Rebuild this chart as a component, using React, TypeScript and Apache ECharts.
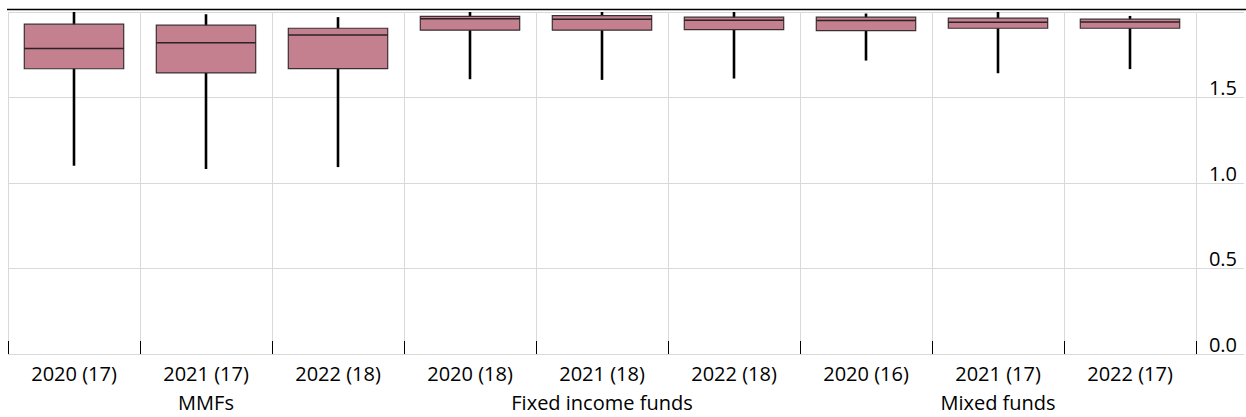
import React, { useEffect, useRef } from "react";
import * as echarts from "echarts";

const categories = ["2020 (17)", "2021 (17)", "2022 (18)", "2020 (18)", "2021 (18)", "2022 (18)", "2020 (16)", "2021 (17)", "2022 (17)"];
const groupLabels = ["", "MMFs", "", "", "Fixed income funds", "", "", "Mixed funds", ""];
const whiskerLow = [1.101, 1.082, 1.093, 1.607, 1.603, 1.611, 1.716, 1.642, 1.666];
const quartile1 = [1.668, 1.644, 1.669, 1.894, 1.894, 1.897, 1.891, 1.905, 1.905];
const medians = [1.786, 1.82, 1.866, 1.961, 1.958, 1.952, 1.95, 1.94, 1.942];
const quartile3 = [1.929, 1.923, 1.905, 1.975, 1.979, 1.97, 1.97, 1.964, 1.958];
const whiskerHigh = [2.0, 1.987, 1.97, 2.0, 2.0, 2.0, 1.991, 2.0, 1.977];
const yMin = 0;
const yMax = 2;
const yStep = 0.5;

const FONT = "'Open Sans', 'Noto Sans', sans-serif";

export default function App() {
  const ref = useRef<HTMLDivElement>(null);
  useEffect(() => {
    if (!ref.current) return;
    const chart = echarts.init(ref.current, null, { renderer: "svg" });
    const data = categories.map((_, i) => [i, whiskerLow[i], quartile1[i], medians[i], quartile3[i], whiskerHigh[i]]);
    chart.setOption({
      animation: false,
      backgroundColor: "#ffffff",
      grid: [
        { left: 8, width: 1188, top: 12, height: 342 },
        { left: 8, right: 2, top: 12, height: 342 },
      ],
      xAxis: [
        {
          type: "category",
          gridIndex: 0,
          data: categories,
          boundaryGap: true,
          axisLine: { show: false },
          axisTick: { show: true, inside: true, length: 13, lineStyle: { color: "#000", width: 1 } },
          axisLabel: { interval: 0, margin: 9, fontSize: 20, fontFamily: FONT, color: "#000" },
          splitLine: { show: true, lineStyle: { color: "#d9d9d9", width: 1 } },
          z: 3,
        },
        {
          type: "category",
          gridIndex: 0,
          data: groupLabels,
          position: "bottom",
          offset: 30,
          axisLine: { show: false },
          axisTick: { show: false },
          axisLabel: { interval: 0, margin: 8, fontSize: 20, fontFamily: FONT, color: "#000" },
          splitLine: { show: false },
        },
        {
          type: "value",
          gridIndex: 1,
          show: false,
          min: 0,
          max: 1,
        },
      ],
      yAxis: [
        { type: "value", gridIndex: 0, min: yMin, max: yMax, interval: yStep, show: false, splitLine: { show: false } },
        {
          type: "value",
          gridIndex: 1,
          min: yMin,
          max: yMax,
          interval: yStep,
          position: "right",
          axisLine: { show: false },
          axisTick: { show: false },
          axisLabel: {
            inside: true,
            margin: 7,
            showMaxLabel: false,
            verticalAlign: "bottom",
            fontSize: 20,
            fontFamily: FONT,
            color: "#000",
            formatter: (v: number) => v.toFixed(1),
          },
          splitLine: { show: true, lineStyle: { color: "#d9d9d9", width: 1 } },
        },
      ],
      graphic: [
        { type: "line", shape: { x1: 7, y1: 9.5, x2: 1246, y2: 9.5 }, style: { stroke: "#000", lineWidth: 1.5 }, z: 10 },
      ],
      series: [
        {
          type: "custom",
          xAxisIndex: 0,
          yAxisIndex: 0,
          data,
          encode: { x: 0, y: [1, 2, 3, 4, 5] },
          z: 5,
          renderItem: (params: any, api: any) => {
            const idx = api.value(0);
            const lo = api.coord([idx, api.value(1)]);
            const q1 = api.coord([idx, api.value(2)]);
            const md = api.coord([idx, api.value(3)]);
            const q3 = api.coord([idx, api.value(4)]);
            const hi = api.coord([idx, api.value(5)]);
            const bw = api.size([1, 0])[0] * 0.753;
            const x = lo[0];
            return {
              type: "group",
              children: [
                { type: "line", shape: { x1: x, y1: hi[1], x2: x, y2: lo[1] }, style: { stroke: "#000", lineWidth: 2.6 } },
                {
                  type: "rect",
                  shape: { x: x - bw / 2, y: q3[1], width: bw, height: q1[1] - q3[1] },
                  style: { fill: "#C4808E", stroke: "#3a3034", lineWidth: 1.2 },
                },
                { type: "line", shape: { x1: x - bw / 2, y1: md[1], x2: x + bw / 2, y2: md[1] }, style: { stroke: "#2a2226", lineWidth: 1.5 } },
              ],
            };
          },
        },
      ],
    });
    return () => chart.dispose();
  }, []);
  return <div ref={ref} style={{ position: "fixed", left: 0, top: 0, width: 1246, height: 417 }} />;
}
